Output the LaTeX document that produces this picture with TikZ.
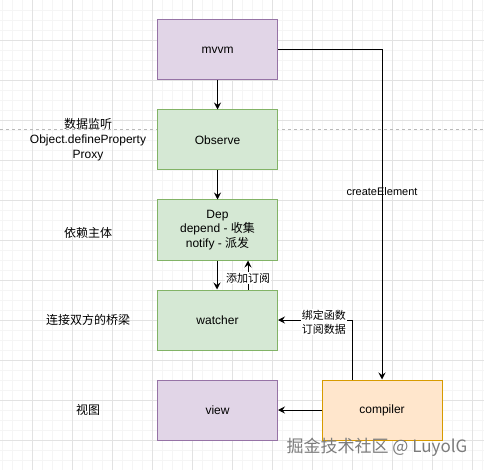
\documentclass[tikz,border=0pt]{standalone}
\usepackage{fontspec}
\setmainfont{Liberation Sans}
\newfontfamily\cjk{Noto Sans CJK SC}
\usetikzlibrary{arrows.meta}
\definecolor{pfill}{HTML}{E1D5E7}
\definecolor{pstroke}{HTML}{9673A6}
\definecolor{gfill}{HTML}{D5E8D4}
\definecolor{gstroke}{HTML}{82B366}
\definecolor{ofill}{HTML}{FFE6CC}
\definecolor{ostroke}{HTML}{D79B00}
\definecolor{gridmajor}{HTML}{E2E2E2}
\definecolor{gridminor}{HTML}{F5F5F5}
\definecolor{wmark}{HTML}{7C7C7C}
\begin{document}
\begin{tikzpicture}[x=1pt,y=-1pt,
  box/.style={draw, line width=1pt, minimum width=120pt, minimum height=60pt, inner sep=0pt, align=center, font=\fontsize{12}{14.5}\selectfont},
  purplebox/.style={box, fill=pfill, draw=pstroke},
  greenbox/.style={box, fill=gfill, draw=gstroke},
  orangebox/.style={box, fill=ofill, draw=ostroke},
  arr/.style={line width=1pt, -{Stealth[length=7pt,width=7pt,inset=2.5pt]}},
  sidelabel/.style={align=center, font=\fontsize{12}{15}\selectfont},
  edgelabel/.style={align=center, inner sep=1pt, font=\fontsize{11}{14}\selectfont},
  ]
\useasboundingbox (0,0) rectangle (484,470);
\fill[white] (0,0) rectangle (484,470);
% grid
\foreach \x in {2,12,...,482} \draw[gridminor, line width=0.6pt] (\x,0) -- (\x,470);
\foreach \y in {10,20,...,470} \draw[gridminor, line width=0.6pt] (0,\y) -- (484,\y);
\foreach \x in {32,72,...,472} \draw[gridmajor, line width=0.8pt] (\x,0) -- (\x,470);
\foreach \y in {40,80,...,440} \draw[gridmajor, line width=0.8pt] (0,\y) -- (484,\y);
% dashed divider
\draw[gray!55, line width=0.8pt, dash pattern=on 3pt off 3pt] (0,129.5) -- (484,129.5);

% boxes
\node[purplebox] (mvvm) at (217.5,50) {mvvm};
\node[greenbox] (obs) at (217.5,140) {Observe};
\node[greenbox] (dep) at (217.5,230) {Dep\\depend - {\cjk 收集}\\notify - {\cjk 派发}};
\node[greenbox] (watch) at (217.5,320) {watcher};
\node[purplebox] (view) at (217.5,410) {view};
\node[orangebox] (comp) at (382,410) {compiler};

% side labels
\node[sidelabel] (l1) at (88,140) {{\cjk 数据监听}\\Object.defineProperty\\Proxy};
\node[sidelabel] (l2) at (88,233) {\cjk 依赖主体};
\node[sidelabel] (l3) at (88,320) {\cjk 连接双方的桥梁};
\node[sidelabel] (l4) at (88,410) {\cjk 视图};

% connectors
\draw[arr] (mvvm) -- (obs);
\draw[arr] (obs) -- (dep);
\draw[arr] (mvvm.east) -| (comp.north) node[pos=0.715, edgelabel] (ce) {createElement};
\draw[arr] ([xshift=-0.5pt]dep.south) -- ([xshift=-0.5pt]watch.north);
\draw[arr] ([xshift=30.5pt]watch.north) -- ([xshift=30.5pt]dep.south) node[pos=0.4, edgelabel, fill=white] (sub) {\cjk 添加订阅};
\draw[arr] ([xshift=-30pt]comp.north) |- (watch.east) node[pos=0.69, edgelabel, fill=white, yshift=-2pt] (bind) {\cjk 绑定函数\\\cjk 订阅数据};
\draw[arr] (comp.west) -- (view.east);

% watermark
\node[text=wmark, font=\fontsize{17}{20}\selectfont\cjk, inner sep=0pt] (wm) at (377,447) {掘金技术社区 @ LuyolG};
\end{tikzpicture}
\end{document}
